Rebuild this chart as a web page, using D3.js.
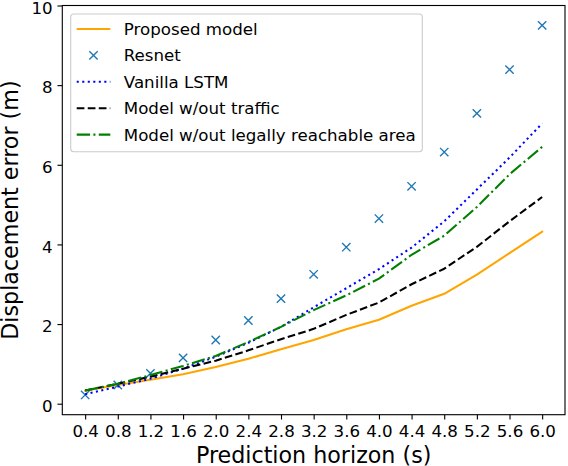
<!DOCTYPE html>
<html>
<head>
<meta charset="utf-8">
<script src="https://cdn.jsdelivr.net/npm/d3@7"></script>
<style>
  html, body { margin: 0; padding: 0; background: #fff; }
  svg { display: block; font-family: "DejaVu Sans", sans-serif; }
</style>
</head>
<body>
<svg id="chart" width="568" height="466"></svg>
<script>
// ---- data ----
const horizons = [0.4, 0.8, 1.2, 1.6, 2.0, 2.4, 2.8, 3.2, 3.6, 4.0, 4.4, 4.8, 5.2, 5.6, 6.0];
const proposed = [0.33, 0.47, 0.60, 0.74, 0.92, 1.13, 1.37, 1.60, 1.87, 2.11, 2.46, 2.76, 3.24, 3.78, 4.32];
const resnet   = [0.22, 0.47, 0.76, 1.15, 1.60, 2.09, 2.64, 3.25, 3.93, 4.65, 5.46, 6.32, 7.29, 8.39, 9.50];
const vanilla  = [0.24, 0.43, 0.63, 0.88, 1.18, 1.53, 1.93, 2.42, 2.90, 3.38, 3.92, 4.58, 5.38, 6.18, 7.04];
const noTraffic = [0.33, 0.50, 0.68, 0.88, 1.08, 1.34, 1.62, 1.88, 2.23, 2.54, 3.00, 3.39, 3.94, 4.58, 5.19];
const noArea   = [0.33, 0.50, 0.72, 0.95, 1.20, 1.55, 1.93, 2.35, 2.72, 3.14, 3.74, 4.22, 4.94, 5.76, 6.45];
const yTicks = [0, 2, 4, 6, 8, 10];
const legendLabels = ["Proposed model", "Resnet", "Vanilla LSTM", "Model w/out traffic", "Model w/out legally reachable area"];
const xLabel = "Prediction horizon (s)";
const yLabel = "Displacement error (m)";

// ---- layout ----
const L = 62.3, R = 565, T = 5.5, B = 414.7;
const svg = d3.select("#chart");
const x = d3.scaleLinear().domain([0.12, 6.28]).range([L, R]);
const y = d3.scaleLinear().domain([-0.276, 10]).range([B, T]);

const tickLen = 4.86, tickPad = 4.86, tickFont = "16.67px";

// axes
const gx = svg.append("g").attr("transform", `translate(0,${B})`)
  .call(d3.axisBottom(x).tickValues(horizons).tickFormat(d3.format(".1f"))
        .tickSize(tickLen).tickPadding(tickPad + 1).tickSizeOuter(0));
const gy = svg.append("g").attr("transform", `translate(${L},0)`)
  .call(d3.axisLeft(y).tickValues(yTicks).tickFormat(d3.format("d"))
        .tickSize(tickLen).tickPadding(tickPad).tickSizeOuter(0));
[gx, gy].forEach(g => {
  g.select(".domain").remove();
  g.selectAll(".tick line").attr("stroke", "#000").attr("stroke-width", 1.11);
  g.selectAll(".tick text").attr("fill", "#000")
    .style("font-family", "DejaVu Sans").style("font-size", tickFont);
});
gy.selectAll(".tick text").attr("dy", "0.46em");

// lines
const lineGen = vals => d3.line().x((d, i) => x(horizons[i])).y(d => y(d))(vals);
const plot = svg.append("g");
function drawLine(vals, color, dash, cap) {
  plot.append("path").attr("d", lineGen(vals))
    .attr("fill", "none").attr("stroke", color).attr("stroke-width", 2.08)
    .attr("stroke-dasharray", dash).attr("stroke-linecap", cap)
    .attr("stroke-linejoin", "round");
}
const styles = [
  { color: "#ffa500", dash: null, cap: "square" },
  { color: "#1f77b4" },
  { color: "#0000ff", dash: "2.08 3.44", cap: "butt" },
  { color: "#000000", dash: "7.71 3.33", cap: "butt" },
  { color: "#008000", dash: "13.33 3.33 2.08 3.33", cap: "butt" }
];
drawLine(proposed, styles[0].color, styles[0].dash, styles[0].cap);
// resnet x markers
const ms = 4.17;
function xMarker(g, cx, cy) {
  g.append("path")
    .attr("d", `M${cx - ms},${cy - ms}L${cx + ms},${cy + ms}M${cx - ms},${cy + ms}L${cx + ms},${cy - ms}`)
    .attr("stroke", styles[1].color).attr("stroke-width", 1.39).attr("fill", "none");
}
resnet.forEach((v, i) => xMarker(plot, x(horizons[i]), y(v)));
drawLine(vanilla, styles[2].color, styles[2].dash, styles[2].cap);
drawLine(noTraffic, styles[3].color, styles[3].dash, styles[3].cap);
drawLine(noArea, styles[4].color, styles[4].dash, styles[4].cap);

// frame
svg.append("rect").attr("x", L).attr("y", T).attr("width", R - L).attr("height", B - T)
  .attr("fill", "none").attr("stroke", "#000").attr("stroke-width", 1.11);

// axis labels
svg.append("text").attr("x", (L + R) / 2).attr("y", 462.5).attr("text-anchor", "middle")
  .style("font-size", "22.2px").attr("fill", "#000").text(xLabel);
svg.append("text").attr("transform", `translate(18.3,${(T + B) / 2}) rotate(-90)`)
  .attr("text-anchor", "middle").style("font-size", "22.2px").attr("fill", "#000").text(yLabel);

// legend
const lg = svg.append("g");
lg.append("rect").attr("x", 70.7).attr("y", 14).attr("width", 422.3 - 70.7).attr("height", 151.7 - 14)
  .attr("rx", 3).attr("ry", 3).attr("fill", "#fff").attr("fill-opacity", 0.8)
  .attr("stroke", "#cccccc").attr("stroke-width", 1.11);
const rowBase = 35, rowStep = 26.4, hx0 = 76.7, hx1 = 110.3;
legendLabels.forEach((lab, i) => {
  const by = rowBase + i * rowStep;
  const cy = by - 6;
  if (i === 1) {
    xMarker(lg, (hx0 + hx1) / 2, cy);
  } else {
    lg.append("line").attr("x1", hx0).attr("x2", hx1).attr("y1", cy).attr("y2", cy)
      .attr("stroke", styles[i].color).attr("stroke-width", 2.08)
      .attr("stroke-dasharray", styles[i].dash).attr("stroke-linecap", i === 0 ? "butt" : styles[i].cap);
  }
  lg.append("text").attr("x", 123.8).attr("y", by).style("font-size", "16.67px")
    .attr("fill", "#000").text(lab);
});
</script>
</body>
</html>
